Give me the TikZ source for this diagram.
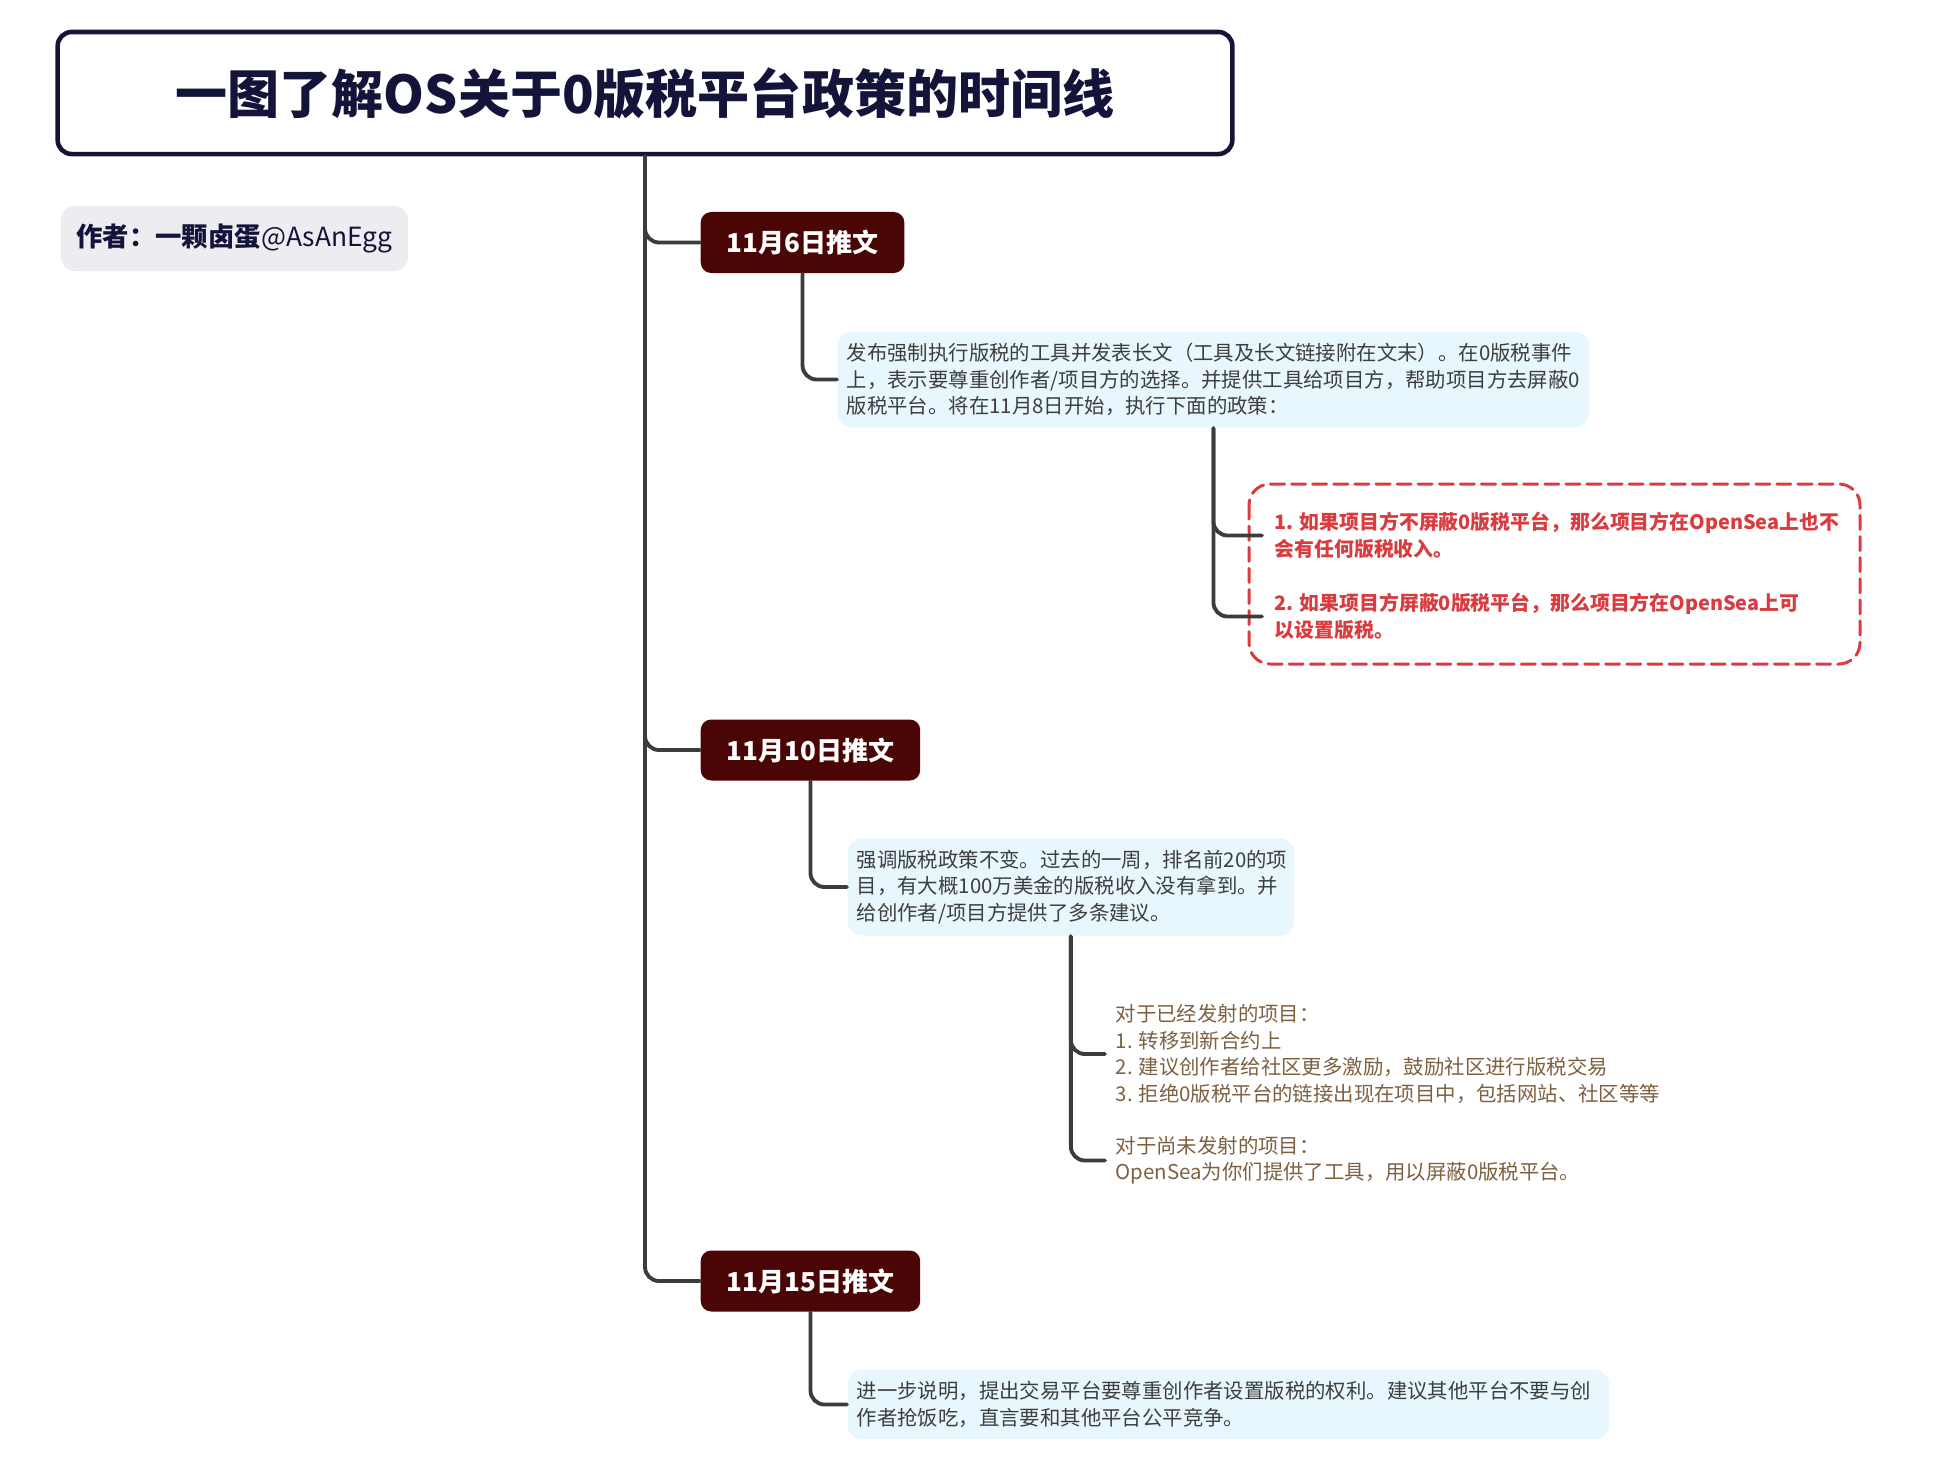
\documentclass[tikz,border=0pt]{standalone}
\usepackage{fontspec}
\setmainfont{Noto Sans CJK SC}
\definecolor{inkblue}{HTML}{14143A}
\definecolor{paleink}{HTML}{EDECF0}
\definecolor{darkred}{HTML}{4A0505}
\definecolor{paleblue}{HTML}{E8F6FD}
\definecolor{bodygray}{HTML}{3E3E3E}
\definecolor{alertred}{HTML}{DA3B3E}
\definecolor{advicebrown}{HTML}{7D6040}
\definecolor{linkgray}{HTML}{3C3C3C}
\tikzset{
  headline/.style={draw=inkblue, line width=1.3pt, rounded corners=4pt, fill=white, text=inkblue,
    minimum width=11.74cm, minimum height=1.22cm, font=\fontsize{14.8}{18}\selectfont\bfseries},
  byline/.style={fill=paleink, rounded corners=4pt, text=inkblue, minimum width=3.47cm,
    minimum height=0.65cm, font=\fontsize{7.5}{9}\selectfont},
  datebox/.style={fill=darkred, text=white, rounded corners=3pt, inner xsep=0.26cm,
    minimum height=0.61cm, font=\fontsize{7.4}{9}\selectfont\bfseries},
  notebox/.style={fill=paleblue, rounded corners=4pt, text=bodygray, align=left, inner xsep=0.09cm,
    font=\fontsize{5.8}{7.5}\selectfont},
  redpoint/.style={text=alertred, align=left, inner xsep=0.12cm, font=\fontsize{5.65}{7.5}\selectfont\bfseries},
  advice/.style={text=advicebrown, align=left, inner xsep=0.1cm, font=\fontsize{5.8}{7.5}\selectfont},
  link/.style={draw=linkgray, line width=1.1pt, rounded corners=4pt},
  boundary/.style={draw=alertred, line width=0.85pt, dash pattern=on 4pt off 2pt, rounded corners=6pt},
}
\begin{document}
\begin{tikzpicture}[line cap=round,line join=round,x=0.01cm,y=-0.01cm]
				\useasboundingbox (0,0) rectangle (1934,1472);
				% title and author
				\node[headline] (headline) at (645,93) {一图了解OS关于0版税平台政策的时间线};
				\node[byline] (byline) at (234.5,238.5) {\textbf{作者：一颗卤蛋}@AsAnEgg};
				% dates
				\node[datebox,anchor=west] (d1) at (700,242.5) {11月6日推文};
				\node[datebox,anchor=west] (d2) at (700,750) {11月10日推文};
				\node[datebox,anchor=west] (d3) at (700,1281) {11月15日推文};
				% notes
				\node[notebox,anchor=west,text width=7.33cm,minimum height=0.95cm] (n1) at (837,379.5)
					{发布强制执行版税的工具并发表长文（工具及长文链接附在文末）。在0版税事件\\
					上，表示要尊重创作者/项目方的选择。并提供工具给项目方，帮助项目方去屏蔽0\\
					版税平台。将在11月8日开始，执行下面的政策：};
				\node[notebox,anchor=west,text width=4.28cm,minimum height=0.92cm] (n2) at (847,887)
					{强调版税政策不变。过去的一周，排名前20的项\\
					目，有大概100万美金的版税收入没有拿到。并\\
					给创作者/项目方提供了多条建议。};
				\node[notebox,anchor=west,text width=7.43cm,minimum height=0.67cm] (n3) at (847,1404.5)
					{进一步说明，提出交易平台要尊重创作者设置版税的权利。建议其他平台不要与创\\
					作者抢饭吃，直言要和其他平台公平竞争。};
				% policy of 11/8
				\draw[boundary] (1249,484) rectangle (1860,664);
				\node[redpoint,anchor=west] (r1) at (1262,535.5)
					{1. 如果项目方不屏蔽0版税平台，那么项目方在OpenSea上也不\\会有任何版税收入。};
				\node[redpoint,anchor=west] (r2) at (1262,616.5)
					{2. 如果项目方屏蔽0版税平台，那么项目方在OpenSea上可\\以设置版税。};
				% advice
				\node[advice,anchor=west] (a1) at (1105,1054)
					{对于已经发射的项目：\\1. 转移到新合约上\\2. 建议创作者给社区更多激励，鼓励社区进行版税交易\\3. 拒绝0版税平台的链接出现在项目中，包括网站、社区等等};
				\node[advice,anchor=west] (a2) at (1105,1160.5)
					{对于尚未发射的项目：\\OpenSea为你们提供了工具，用以屏蔽0版税平台。};
				% links
				\draw[link] (headline.south) |- (d1.west);
				\draw[link] (headline.south) |- (d2.west);
				\draw[link] (headline.south) |- (d3.west);
				\draw[link] (d1.south) |- (n1.west);
				\draw[link] (n1.south) |- (r1.west);
				\draw[link] (n1.south) |- (r2.west);
				\draw[link] (d2.south) |- (n2.west);
				\draw[link] (n2.south) |- (a1.west);
				\draw[link] (n2.south) |- (a2.west);
				\draw[link] (d3.south) |- (n3.west);
\end{tikzpicture}
\end{document}
